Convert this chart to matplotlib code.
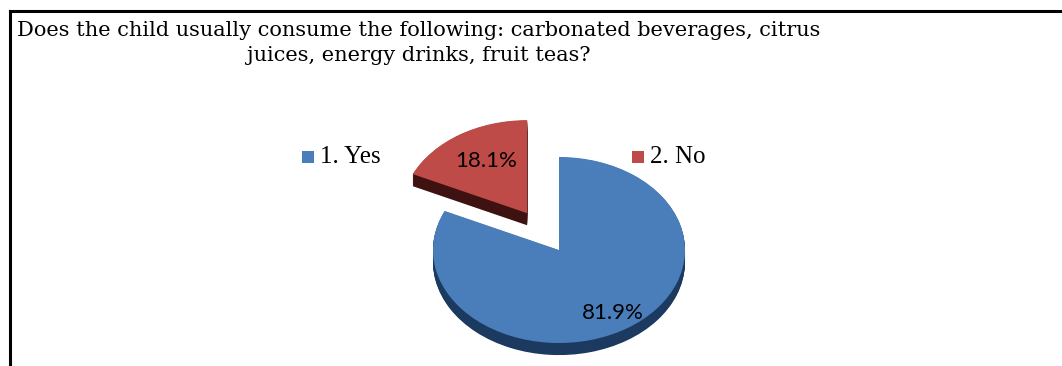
import numpy as np
import matplotlib.pyplot as plt
from matplotlib.lines import Line2D
from matplotlib.patches import Rectangle

############# DATA ###############
LABELS = ["1. Yes", "2. No"]
SHARES = [81.9, 18.1]
EXPLODE = [0.0, 0.47]
TITLE = ("Does the child usually consume the following: carbonated beverages, citrus\n"
         "juices, energy drinks, fruit teas?")
##################################

TOP_COLORS = ["#4a7ebb", "#be4b48"]
SIDE_COLORS = ["#1c3a60", "#3e1211"]

W, H = 1062, 366
fig = plt.figure(figsize=(W / 100, H / 100), dpi=100)

# pie axes, placed in pixels: center (559, 250), rx 126 px, ry 93 px
RX, RY = 126, 93
CX, CY = 559, 250
xl = (-1.4, 1.4)
yl = (-1.4, 1.6)
left = CX - (-xl[0]) * RX
bottom = (H - CY) - (-yl[0]) * RY
pos = [left / W, bottom / H, (xl[1] - xl[0]) * RX / W, (yl[1] - yl[0]) * RY / H]
ax = fig.add_axes(pos)

# side of the 3D pie: stacked dark copies shifted down
depth = 0.13
for d in np.linspace(depth, 0.005, 16):
    ax.pie(SHARES, explode=EXPLODE, colors=SIDE_COLORS, startangle=90,
           counterclock=False, center=(0, -d),
           wedgeprops=dict(linewidth=0))

wedges, _ = ax.pie(SHARES, explode=EXPLODE, colors=TOP_COLORS, startangle=90,
                   counterclock=False, wedgeprops=dict(linewidth=0))

# percentage labels
pct_dist = [0.8, 0.66]
pct_shift = [0.0, 0.03]
for w, v, r, s in zip(wedges, SHARES, pct_dist, pct_shift):
    mid = np.deg2rad((w.theta1 + w.theta2) / 2)
    x = w.center[0] + r * np.cos(mid) + s
    y = w.center[1] + r * np.sin(mid)
    ax.text(x, y, f"{v}%", ha="center", va="center", fontsize=16,
            family="Lato", color="black")

ax.set_aspect("auto")
ax.set_xlim(*xl)
ax.set_ylim(*yl)
ax.set_position(pos)
ax.axis("off")

# title
fig.text(419 / W, 1 - 43 / H, TITLE, ha="center", va="center", fontsize=15,
         family="DejaVu Serif", linespacing=1.35, color="black")

# legend entries
legend_pos = [(302, 157), (632, 157)]
for (lx, ly), lab, col in zip(legend_pos, LABELS, TOP_COLORS):
    fig.add_artist(Rectangle((lx / W, 1 - (ly + 6) / H), 12 / W, 12 / H,
                             transform=fig.transFigure, facecolor=col, edgecolor="none"))
    fig.text((lx + 18) / W, 1 - ly / H, lab, ha="left", va="center",
             fontsize=18, family="Liberation Serif", color="black")

# frame lines (top and left)
fig.add_artist(Line2D([10 / W, 1.0], [1 - 11 / H, 1 - 11 / H], transform=fig.transFigure,
                      color="black", linewidth=2.2))
fig.add_artist(Line2D([10 / W, 10 / W], [1 - 11 / H, 0.0], transform=fig.transFigure,
                      color="black", linewidth=2.2))

fig.savefig("out.png", dpi=100)
